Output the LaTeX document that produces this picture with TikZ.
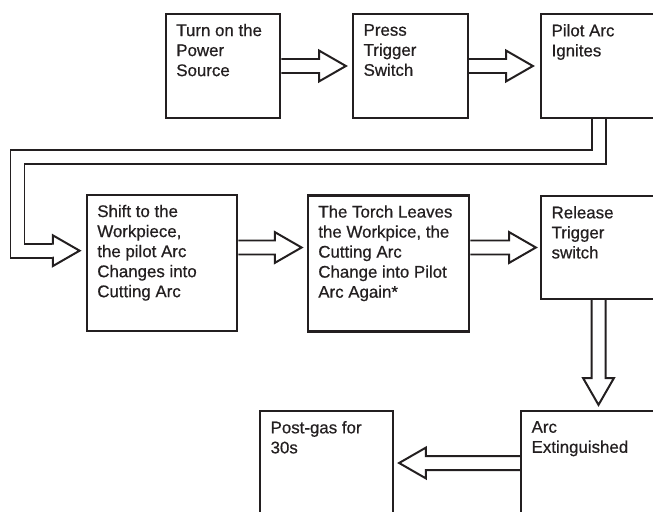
\documentclass[tikz,border=0pt]{standalone}
\usepackage{fontspec}
\setmainfont{Liberation Sans}
\newfontfamily\stepfont[BoldFont={Liberation Sans}, BoldFeatures={FakeBold=0.6}]{Liberation Sans}
\usetikzlibrary{calc}
\definecolor{inkline}{HTML}{231F20}

\tikzset{
  stepbox/.style={draw=inkline, line width=1.9pt, inner sep=0pt},
  heavybox/.style={stepbox, line width=2.4pt},
  steptext/.style={anchor=north west, inner sep=0pt, align=left, text=inkline,
    font=\stepfont\bfseries\fontsize{14.4}{17.1}\selectfont},
  flowline/.style={draw=inkline, fill=white, line width=1.7pt, line join=miter},
  shaftline/.style={draw=inkline, line width=1.7pt, double=white,
    double distance=0.36cm, line join=miter},
}

\newcommand{\hollowarrow}[2]{%
  \coordinate (hb) at ($(#2)!0.8cm!(#1)$);
  \draw[flowline] ($(#1)!0.21cm!90:(#2)$) -- ($(hb)!0.21cm!90:(#2)$)
    -- ($(hb)!0.46cm!90:(#2)$) -- (#2) -- ($(hb)!0.46cm!-90:(#2)$)
    -- ($(hb)!0.21cm!-90:(#2)$) -- ($(#1)!0.21cm!-90:(#2)$);}

\begin{document}
\begin{tikzpicture}[x=0.03cm, y=-0.03cm]
  \useasboundingbox (0,0) rectangle (653,512);
  \clip (0,0) rectangle (653,512);

  \node[heavybox, minimum width=3.42cm, minimum height=3.12cm] (s1) at (223,66) {};
  \node[stepbox, minimum width=3.45cm, minimum height=3.12cm] (s2) at (410.5,66) {};
  \node[stepbox, minimum width=3.45cm, minimum height=3.12cm] (s3) at (598.5,66) {};
  \node[heavybox, minimum width=4.5cm, minimum height=4.08cm] (s4) at (162,263) {};
  \node[heavybox, minimum width=4.83cm, minimum height=4.08cm] (s5) at (388.5,263.5) {};
  \node[stepbox, minimum width=3.45cm, minimum height=3.09cm] (s6) at (598.5,247.5) {};
  \node[stepbox, minimum width=4.05cm, minimum height=3.12cm] (s7) at (588.5,463) {};
  \node[stepbox, minimum width=3.99cm, minimum height=3.12cm] (s8) at (326.5,463) {};

  \foreach \s/\txt in {s1/{Turn on the\\Power\\Source}, s2/{Press\\Trigger\\Switch},
      s3/{Pilot Arc\\Ignites},
      s4/{Shift to the\\Workpiece,\\the pilot Arc\\Changes into\\Cutting Arc},
      s5/{The Torch Leaves\\the Workpice, the\\Cutting Arc\\Change into Pilot\\Arc Again*},
      s6/{Release\\Trigger\\switch}, s7/{Arc\\Extinguished}, s8/{Post-gas for\\30s}}{%
    \node[steptext] (\s-text) at ($(\s.north west)+(11.5,11)$) {\txt};}

  \hollowarrow{s1.east}{$(s2.west)+(-6,0)$}
  \hollowarrow{s2.east}{$(s3.west)+(-7,0)$}

  \coordinate (loopturn) at (17.5,157.4);
  \coordinate (loopend) at ($(s4.west)+(-33,-12.3)$);
  \draw[shaftline] (s3.south) |- (loopturn) |- (loopend);
  \hollowarrow{loopend}{$(s4.west)+(-6,-12.3)$}

  \hollowarrow{s4.east |- s6.west}{$(s5.west |- s6.west)+(-5,0)$}
  \hollowarrow{s5.east |- s6.west}{$(s6.west)+(-4,0)$}
  \hollowarrow{s6.south}{$(s6.south |- s7.north)+(0,-5)$}
  \hollowarrow{s7.west}{$(s8.east)+(5,0)$}
\end{tikzpicture}
\end{document}
